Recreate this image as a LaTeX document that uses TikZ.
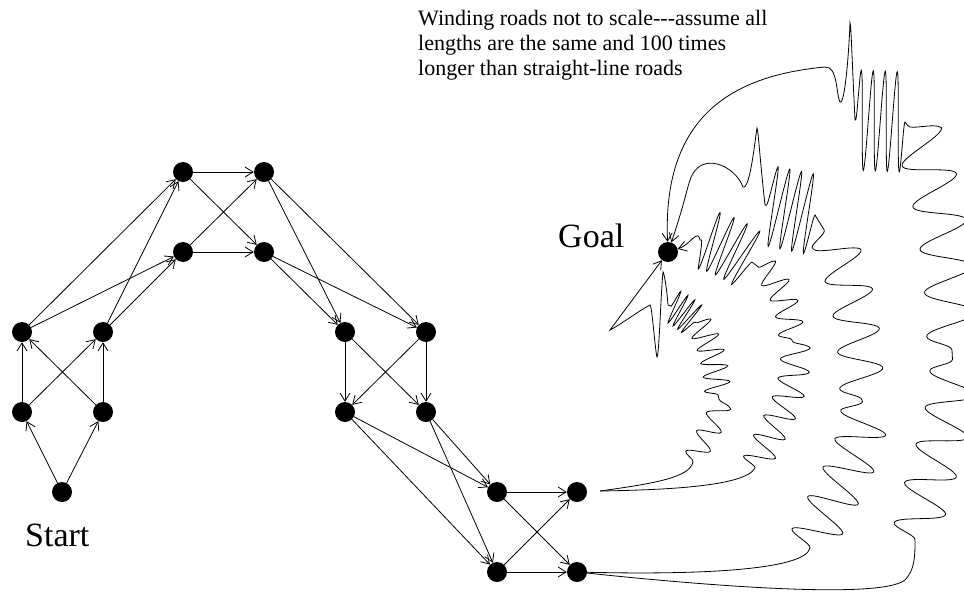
\documentclass[tikz,border=0pt]{standalone}
\usepackage{fontspec}
\setmainfont{Liberation Serif}
\usetikzlibrary{arrows.meta,decorations.pathmorphing}
\begin{document}
\begin{tikzpicture}[x=1pt,y=-1pt,
  dot/.style={circle,fill=black,minimum size=20pt,inner sep=0pt},
  arr/.style={-{Straight Barb[length=8pt,width=10pt]}},
  edge/.style={line width=0.8pt,arr},
  road/.style={line width=0.8pt},
  big/.style={font=\fontsize{34}{40}\selectfont,inner sep=0pt,anchor=base west},
  small/.style={font=\fontsize{22}{25}\selectfont,inner sep=0pt,anchor=base west},
  sn/.style 2 args={decoration={snake,amplitude=#1,segment length=#2}}
  ]
\useasboundingbox (0,0) rectangle (964,592);
\clip (0,0) rectangle (964,592);
% nodes
\node[dot] (s) at (62,492) {};
\node[dot] (a1) at (22,412) {};
\node[dot] (a2) at (103,412) {};
\node[dot] (b1) at (22,332) {};
\node[dot] (b2) at (103,332) {};
\node[dot] (c1) at (183,172) {};
\node[dot] (c2) at (264,172) {};
\node[dot] (d1) at (183,252) {};
\node[dot] (d2) at (264,252) {};
\node[dot] (e1) at (345,332) {};
\node[dot] (e2) at (426,332) {};
\node[dot] (f1) at (345,412) {};
\node[dot] (f2) at (426,412) {};
\node[dot] (g1) at (497,492) {};
\node[dot] (g2) at (577,492) {};
\node[dot] (h1) at (497,572) {};
\node[dot] (h2) at (577,572) {};
\node[dot] (goal) at (668,252) {};
% labels
\node[big] (startlbl) at (25,546) {Start};
\node[big] (goallbl) at (558,247) {Goal};
\node[small] (t1) at (418,25) {Winding roads not to scale-{}-{}-assume all};
\node[small] (t2) at (418,50) {lengths are the same and 100 times};
\node[small] (t3) at (418,75) {longer than straight-line roads};
% edges
\foreach \u/\v in {s/a1,s/a2,a1/b1,a1/b2,a2/b2,a2/b1,
  b1/c1,b1/d1,b2/c1,b2/d1,c1/c2,c1/d2,d1/d2,d1/c2,
  c2/e1,c2/e2,d2/e1,d2/e2,e1/f1,e1/f2,e2/f2,e2/f1,
  f1/g1,f1/h1,f2/g1,f2/h1,g1/g2,g1/h2,h1/h2,h1/g2}
  \draw[edge] (\u) -- (\v);
% winding roads
\coordinate (ra0) at (600,491);
% road A
\draw[road,arr] (ra0) .. controls (650,484) and (690,478) .. (693,462)
  decorate[sn={11pt}{22pt}]{ .. controls (705,435) and (722,420) .. (718,395)}
  decorate[sn={13pt}{15pt}]{ .. controls (716,370) and (712,345) .. (695,322)}
  decorate[sn={17pt}{7pt}]{ .. controls (688,315) and (676,308) .. (668,305)}
  .. controls (667,290) and (664,272) .. (663,272)
  .. controls (661,290) and (659,357) .. (657,357)
  .. controls (655,350) and (652,305) .. (650,305)
  .. controls (640,310) and (620,325) .. (610,330) -- (goal);
% road B
\draw[road,arr] (ra0) .. controls (660,490) and (745,487) .. (755,468)
  decorate[sn={15pt}{22pt}]{ .. controls (770,430) and (800,400) .. (792,340)}
  decorate[sn={13pt}{20pt}]{ .. controls (788,300) and (775,280) .. (752,262)}
  decorate[sn={30pt}{12pt}]{ .. controls (735,250) and (715,242) .. (700,240)}
  .. controls (698,228) and (690,245) .. (goal);
% road C
\draw[road,arr] (h2) .. controls (700,575) and (805,570) .. (810,548)
  decorate[sn={24pt}{34pt}]{ .. controls (830,500) and (865,460) .. (862,400)}
  decorate[sn={22pt}{38pt}]{ .. controls (860,330) and (850,270) .. (815,215)}
  decorate[sn={40pt}{12pt}]{ -- (765,205)}
  .. controls (760,160) and (758,128) .. (757,128)
  .. controls (755,140) and (750,190) .. (743,187)
  .. controls (735,165) and (700,150) .. (690,180)
  .. controls (686,192) and (684,205) .. (goal);
% road D
\draw[road,arr] (h2) .. controls (700,585) and (880,600) .. (905,580)
  .. controls (915,570) and (915,555) .. (915,540)
  decorate[sn={24pt}{40pt}]{ .. controls (930,470) and (955,430) .. (952,350)}
  decorate[sn={25pt}{45pt}]{ .. controls (950,260) and (935,170) .. (905,122)}
  decorate[sn={50pt}{12pt}]{ -- (855,120)}
  .. controls (852,60) and (851,23) .. (850,23)
  .. controls (849,50) and (845,105) .. (840,102)
  .. controls (836,95) and (838,66) .. (825,67)
  .. controls (740,75) and (662,110) .. (goal);
\end{tikzpicture}
\end{document}
